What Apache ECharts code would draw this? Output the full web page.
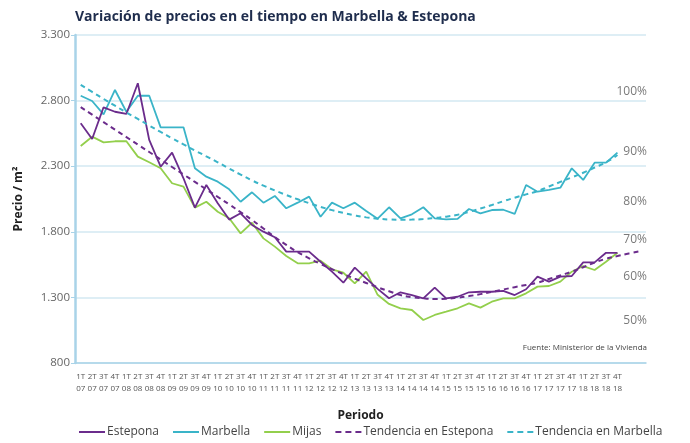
<!DOCTYPE html>
<html>
<head>
<meta charset="utf-8">
<script src="https://cdn.jsdelivr.net/npm/echarts@6/dist/echarts.min.js"></script>
<style>
html,body{margin:0;padding:0;background:#fff;}
#chart{width:690px;height:443px;}
</style>
</head>
<body>
<div id="chart"></div>
<script>
const categories = [
 '1T\n07','2T\n07','3T\n07','4T\n07','1T\n08','2T\n08','3T\n08','4T\n08',
 '1T\n09','2T\n09','3T\n09','4T\n09','1T\n10','2T\n10','3T\n10','4T\n10',
 '1T\n11','2T\n11','3T\n11','4T\n11','1T\n12','2T\n12','3T\n12','4T\n12',
 '1T\n13','2T\n13','3T\n13','4T\n13','1T\n14','2T\n14','3T\n14','4T\n14',
 '1T\n15','2T\n15','3T\n15','4T\n15','1T\n16','2T\n16','3T\n16','4T\n16',
 '1T\n17','2T\n17','3T\n17','4T\n17','1T\n18','2T\n18','3T\n18','4T\n18',
 ' ','  '
];
const estepona = [2627,2507,2749,2715,2698,2932,2500,2296,2403,2208,1984,2157,2017,1893,1941,1852,
 1801,1758,1649,1649,1649,1572,1496,1412,1527,1445,1365,1293,1339,1318,1293,1374,
 1293,1305,1339,1343,1343,1350,1318,1362,1458,1420,1458,1463,1567,1567,1640,1640];
const marbella = [2837,2797,2695,2881,2715,2837,2837,2596,2596,2596,2284,2220,2182,2124,2029,2101,
 2022,2073,1979,2022,2068,1915,2022,1979,2022,1959,1900,1987,1903,1933,1987,1903,
 1895,1898,1974,1941,1966,1968,1936,2157,2106,2119,2136,2284,2195,2327,2327,2403];
const mijas = [2454,2525,2482,2490,2490,2373,2330,2284,2170,2144,1984,2029,1953,1903,1788,1869,
 1750,1687,1616,1560,1560,1580,1514,1488,1407,1496,1320,1250,1217,1204,1128,1166,
 1191,1217,1255,1222,1267,1293,1293,1331,1382,1387,1420,1496,1539,1509,1572,1640];
const tendEstepona = [2750,2693,2636,2579,2522,2465,2408,2351,2294,2237,2180,2123,2066,2009,1950,1890,
 1825,1760,1700,1645,1598,1555,1515,1478,1443,1410,1377,1347,1318,1302,1293,1288,
 1290,1298,1310,1325,1342,1360,1378,1395,1412,1440,1468,1496,1530,1565,1595,1615,1635,1652];
const tendMarbella = [2920,2866,2813,2761,2710,2660,2610,2561,2513,2466,2420,2375,2330,2282,2236,2192,
 2152,2115,2080,2048,2018,1990,1965,1944,1925,1910,1900,1894,1892,1893,1897,1905,
 1915,1930,1952,1977,2004,2033,2060,2085,2110,2145,2180,2215,2250,2290,2330,2385];
const pctLabels = ['100%','90%','80%','70%','60%','50%'];
const pctTops = [92,152,202,240,277,321];

const cPurple = '#6b2c8c', cTeal = '#3ab4c8', cGreen = '#93cf4c';
const FONT = "'Open Sans', 'Noto Sans', sans-serif";
const solidIcon = 'path://M0,0h26v2h-26z';
const dashIcon = 'path://M0,0h6v2h-6z M10,0h6v2h-6z M20,0h6v2h-6z';

const chart = echarts.init(document.getElementById('chart'));
const fmt = v => String(v).replace(/\B(?=(\d{3})+(?!\d))/g, '.');

const graphics = pctLabels.map((t, i) => ({
  type: 'text', x: 647, y: pctTops[i],
  style: { text: t, align: 'right', verticalAlign: 'middle', fill: '#7a7a7a',
           font: "12px 'Open Sans', sans-serif" }
}));
graphics.push({
  type: 'text', x: 647, y: 348,
  style: { text: 'Fuente: Ministerior de la Vivienda', align: 'right', verticalAlign: 'middle',
           fill: '#444', font: "8px 'Open Sans', sans-serif" }
});

chart.setOption({
  animation: false,
  textStyle: { fontFamily: FONT },
  title: {
    text: 'Variación de precios en el tiempo en Marbella & Estepona',
    left: 70, top: 5,
    textStyle: { fontSize: 14, fontWeight: 'bold', color: '#1f2d4d', fontFamily: FONT }
  },
  legend: {
    bottom: 0, left: 74, width: 616,
    itemWidth: 26, itemHeight: 2, itemGap: 14,
    textStyle: { fontSize: 12, color: '#444', fontFamily: FONT, padding: [0, 0, 0, -3] },
    data: [
      { name: 'Estepona', icon: solidIcon },
      { name: 'Marbella', icon: solidIcon },
      { name: 'Mijas', icon: solidIcon },
      { name: 'Tendencia en Estepona', icon: dashIcon },
      { name: 'Tendencia en Marbella', icon: dashIcon }
    ]
  },
  grid: { left: 75, right: 44, top: 35, bottom: 80 },
  xAxis: {
    type: 'category', data: categories, boundaryGap: true,
    name: 'Periodo', nameLocation: 'middle', nameGap: 47,
    nameTextStyle: { fontWeight: 'bold', fontSize: 12, color: '#222' },
    axisLine: { lineStyle: { color: '#a9d3e8', width: 1.5 } },
    axisTick: { alignWithLabel: true, length: 3, lineStyle: { color: '#a9d3e8' } },
    axisLabel: { interval: 0, fontSize: 8, lineHeight: 12, color: '#555', margin: 8 }
  },
  yAxis: {
    type: 'value', min: 800, max: 3300, interval: 500,
    name: 'Precio / m²', nameLocation: 'middle', nameGap: 50, nameRotate: 90,
    nameTextStyle: { fontWeight: 'bold', fontSize: 12, color: '#222' },
    axisLine: { show: true, lineStyle: { color: '#a9d3e8', width: 2.5 } },
    axisTick: { show: true, length: 4, lineStyle: { color: '#a9d3e8' } },
    axisLabel: { formatter: fmt, fontSize: 11.5, color: '#666', margin: 5 },
    splitLine: { lineStyle: { color: '#d3e8f2', width: 1.5 } }
  },
  graphic: graphics,
  series: [
    { name: 'Estepona', type: 'line', data: estepona, symbol: 'none',
      lineStyle: { color: cPurple, width: 1.8 }, itemStyle: { color: cPurple }, z: 5 },
    { name: 'Marbella', type: 'line', data: marbella, symbol: 'none',
      lineStyle: { color: cTeal, width: 1.8 }, itemStyle: { color: cTeal }, z: 4 },
    { name: 'Mijas', type: 'line', data: mijas, symbol: 'none',
      lineStyle: { color: cGreen, width: 1.8 }, itemStyle: { color: cGreen }, z: 3 },
    { name: 'Tendencia en Estepona', type: 'line', data: tendEstepona, symbol: 'none', smooth: true,
      lineStyle: { color: cPurple, width: 2, type: [5, 4] }, itemStyle: { color: cPurple }, z: 6 },
    { name: 'Tendencia en Marbella', type: 'line', data: tendMarbella, symbol: 'none', smooth: true,
      lineStyle: { color: cTeal, width: 2, type: [5, 4] }, itemStyle: { color: cTeal }, z: 6 }
  ]
});
</script>
</body>
</html>
